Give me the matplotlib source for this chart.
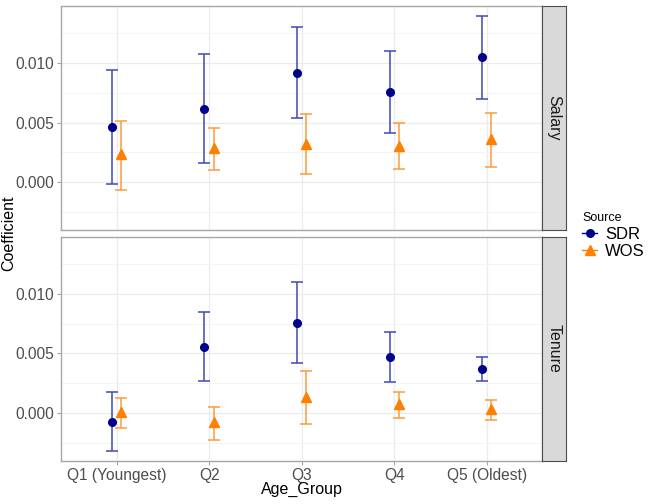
import numpy as np
import matplotlib

matplotlib.use('Agg')
import matplotlib.pyplot as plt
from matplotlib.lines import Line2D
from matplotlib.ticker import MultipleLocator, FormatStrFormatter

plt.rcParams['font.family'] = ['Liberation Sans', 'DejaVu Sans']

groups = ['Q1 (Youngest)', 'Q2', 'Q3', 'Q4', 'Q5 (Oldest)']
sources = ['SDR', 'WOS']
facets = ['Salary', 'Tenure']

# coefficient, lower, upper per facet / source
salary_sdr = [0.00462, 0.00616, 0.00919, 0.00756, 0.01048]
salary_sdr_lo = [-0.00020, 0.00157, 0.00535, 0.00409, 0.00697]
salary_sdr_hi = [0.00941, 0.01076, 0.01305, 0.01100, 0.01397]
salary_wos = [0.00233, 0.00283, 0.00319, 0.00305, 0.00359]
salary_wos_lo = [-0.00065, 0.00098, 0.00065, 0.00107, 0.00124]
salary_wos_hi = [0.00515, 0.00456, 0.00569, 0.00493, 0.00577]

tenure_sdr = [-0.00073, 0.00555, 0.00759, 0.00471, 0.00370]
tenure_sdr_lo = [-0.00323, 0.00266, 0.00417, 0.00261, 0.00269]
tenure_sdr_hi = [0.00176, 0.00846, 0.01098, 0.00681, 0.00467]
tenure_wos = [0.00005, -0.00079, 0.00137, 0.00076, 0.00034]
tenure_wos_lo = [-0.00130, -0.00227, -0.00090, -0.00045, -0.00056]
tenure_wos_hi = [0.00123, 0.00050, 0.00353, 0.00176, 0.00106]

data = {
    'Salary': {'SDR': (salary_sdr, salary_sdr_lo, salary_sdr_hi),
               'WOS': (salary_wos, salary_wos_lo, salary_wos_hi)},
    'Tenure': {'SDR': (tenure_sdr, tenure_sdr_lo, tenure_sdr_hi),
               'WOS': (tenure_wos, tenure_wos_lo, tenure_wos_hi)},
}

point_color = {'SDR': '#00008B', 'WOS': '#FF7F00'}
bar_color = {'SDR': '#3f48b8', 'WOS': '#ff9a3a'}
markers = {'SDR': 'o', 'WOS': '^'}
msize = {'SDR': 5.5, 'WOS': 6.5}
dodge = {'SDR': -0.05, 'WOS': 0.05}

W, H = 653, 504
fig = plt.figure(figsize=(W / 100, H / 100), dpi=100)

px_left, px_right = 61, 542.3
strip_right = 565.7
panels_px = [(6, 230), (236.7, 461)]

x = np.arange(1, len(groups) + 1)
border = '#a6a6a6'

for k, facet in enumerate(facets):
    top, bot = panels_px[k]
    ax = fig.add_axes([px_left / W, (H - bot) / H,
                       (px_right - px_left) / W, (bot - top) / H])
    ax.set_xlim(0.4, 5.6)
    ax.set_ylim(-0.00403, 0.01479)
    ax.yaxis.set_major_locator(MultipleLocator(0.005))
    ax.yaxis.set_minor_locator(MultipleLocator(0.0025))
    ax.yaxis.set_major_formatter(FormatStrFormatter('%.3f'))
    ax.set_xticks(x)
    ax.grid(True, which='major', color='#ebebeb', linewidth=0.9, zorder=0)
    ax.grid(True, which='minor', axis='y', color='#f3f3f3', linewidth=0.6, zorder=0)
    ax.set_axisbelow(True)
    for s in ax.spines.values():
        s.set_color(border)
        s.set_linewidth(1.0)
    ax.tick_params(which='minor', length=0)
    ax.tick_params(which='major', length=3, color=border, labelsize=11.2,
                   labelcolor='#4d4d4d', pad=2)

    for src in sources:
        y, lo, hi = data[facet][src]
        y = np.array(y)
        lo = np.array(lo)
        hi = np.array(hi)
        xs = x + dodge[src]
        ax.errorbar(xs, y, yerr=[y - lo, hi - y], fmt='none',
                    ecolor=bar_color[src], elinewidth=1.1, capsize=4,
                    capthick=1.1, zorder=2)
        ax.plot(xs, y, linestyle='none', marker=markers[src],
                color=point_color[src], markersize=msize[src], zorder=3)

    if k == 0:
        ax.set_xticklabels([])
        ax.tick_params(axis='x', length=0)
    else:
        ax.set_xticklabels(groups)

    sax = fig.add_axes([px_right / W, (H - bot) / H,
                        (strip_right - px_right) / W, (bot - top) / H])
    sax.set_facecolor('#d9d9d9')
    sax.set_xticks([])
    sax.set_yticks([])
    for s in sax.spines.values():
        s.set_color('#4d4d4d')
        s.set_linewidth(0.8)
    sax.text(0.5, 0.5, facet, rotation=-90, ha='center', va='center',
             fontsize=11.5, color='#1a1a1a', transform=sax.transAxes)

fig.text(9 / W, 1 - 233 / H, 'Coefficient', rotation=90, ha='center',
         va='center', fontsize=11.5)
fig.text(302 / W, 1 - 489 / H, 'Age_Group', ha='center', va='center',
         fontsize=11.5)

handles = [Line2D([], [], color=point_color[s], marker=markers[s],
                  markersize=msize[s], linewidth=1.0) for s in sources]
leg = fig.legend(handles, sources, title='Source', loc='upper left',
                 bbox_to_anchor=(574 / W, 1 - 204 / H), frameon=False,
                 fontsize=12, title_fontsize=9, handlelength=0.9,
                 handletextpad=0.45, labelspacing=0.15, borderpad=0)
leg._legend_box.align = 'left'

fig.savefig('out.png', dpi=100)
